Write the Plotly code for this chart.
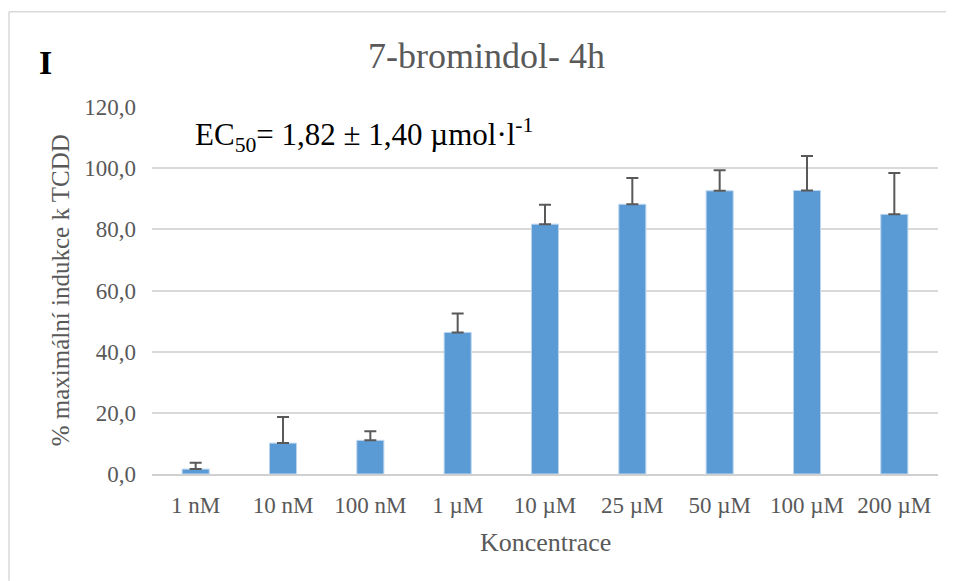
import plotly.graph_objects as go

categories = ["1 nM", "10 nM", "100 nM", "1 µM", "10 µM", "25 µM", "50 µM", "100 µM", "200 µM"]
values = [1.6, 10.1, 11.0, 46.3, 81.7, 88.2, 92.6, 92.7, 84.9]
errors = [2.1, 8.5, 3.0, 6.2, 6.3, 8.6, 6.7, 11.3, 13.5]
y_ticks = [0, 20, 40, 60, 80, 100, 120]

# page body adds an 8px offset; figure is sized so the plot lands where the reference has it
OFF = 8
W, H = 954 - OFF, 581 - OFF
L, R, T, B = 152 - OFF, 16, 106.5 - OFF, 107
pw, ph = W - L - R, H - T - B


def px(x):
    return (x - OFF - L) / pw


def py(y):
    return (H - B - (y - OFF)) / ph


GRAY = "#595959"
FONT = "Liberation Serif"

fig = go.Figure(go.Bar(
    x=categories, y=values,
    marker=dict(color="#5B9BD5", line=dict(color="#BDD5EE", width=1)),
    error_y=dict(type="data", array=errors, symmetric=False, arrayminus=[0] * len(errors),
                 color=GRAY, thickness=2, width=6),
))

fig.update_layout(
    width=W, height=H,
    margin=dict(l=L, r=R, t=T, b=B, pad=0),
    plot_bgcolor="white", paper_bgcolor="white",
    separators=", ",
    bargap=0.69,
    showlegend=False,
    font=dict(family=FONT, color=GRAY, size=23),
    xaxis=dict(showgrid=False, showline=True, linecolor="#D0D0D0", linewidth=1.5,
               ticks="", tickfont=dict(size=23, color=GRAY, family=FONT),
               ticklabelstandoff=10),
    yaxis=dict(range=[0, 120], tickvals=y_ticks, tickformat=".1f",
               showgrid=True, gridcolor="#D9D9D9", gridwidth=1.5,
               zeroline=False, showline=False, ticks="",
               tickfont=dict(size=23, color=GRAY, family=FONT), ticklabelstandoff=15),
    annotations=[
        dict(text="7-bromindol- 4h", x=px(486), y=py(55), xref="paper", yref="paper",
             xanchor="center", yanchor="middle", showarrow=False,
             font=dict(size=36, color=GRAY, family=FONT)),
        dict(text="<b>I</b>", x=px(46), y=py(62), xref="paper", yref="paper",
             xanchor="center", yanchor="middle", showarrow=False,
             font=dict(size=34, color="black", family=FONT)),
        dict(text="EC<sub>50</sub>= 1,82 ± 1,40 µmol·l<sup>-1</sup>", x=px(193), y=py(135),
             xref="paper", yref="paper", xanchor="left", yanchor="middle", showarrow=False,
             font=dict(size=31, color="black", family=FONT)),
        dict(text="% maximální indukce k TCDD", x=px(60), y=py(290), xref="paper", yref="paper",
             xanchor="center", yanchor="middle", textangle=-90, showarrow=False,
             font=dict(size=25, color=GRAY, family=FONT)),
        dict(text="Koncentrace", x=px(545), y=py(543), xref="paper", yref="paper",
             xanchor="center", yanchor="middle", showarrow=False,
             font=dict(size=26, color=GRAY, family=FONT)),
    ],
    shapes=[
        dict(type="line", xref="paper", yref="paper", x0=px(9), x1=px(954), y0=py(11), y1=py(11),
             line=dict(color="#D9D9D9", width=1.5)),
        dict(type="line", xref="paper", yref="paper", x0=px(9), x1=px(9), y0=py(11), y1=py(581),
             line=dict(color="#D9D9D9", width=1.5)),
    ],
)

fig.write_html("out.html")
